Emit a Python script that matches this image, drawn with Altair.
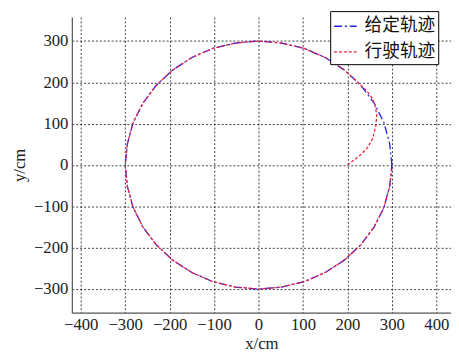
import altair as alt
import pandas as pd

# Given trajectory (circle r=300), points read every 10 degrees
given_x = [300, 295, 282, 260, 230, 193, 150, 103, 52, 0, -52, -103, -150, -193, -230, -260, -282, -295,
           -300, -295, -282, -260, -230, -193, -150, -103, -52, 0, 52, 103, 150, 193, 230, 260, 282, 295, 300]
given_y = [0, 52, 103, 150, 193, 230, 260, 282, 295, 300, 295, 282, 260, 230, 193, 150, 103, 52,
           0, -52, -103, -150, -193, -230, -260, -282, -295, -300, -295, -282, -260, -230, -193, -150, -103, -52, 0]

# Driven trajectory: starts at (200,0), converges onto the circle
driven_x = [200, 215, 230, 245, 257, 264, 266, 262, 255, 243, 230, 193, 150, 103, 52, 0, -52, -103, -150, -193,
            -230, -260, -282, -295, -300, -295, -282, -260, -230, -193, -150, -103, -52, 0, 52, 103, 150, 193,
            230, 260, 282, 295, 300]
driven_y = [0, 12, 25, 42, 65, 95, 122, 145, 163, 180, 193, 230, 260, 282, 295, 300, 295, 282, 260, 230,
            193, 150, 103, 52, 0, -52, -103, -150, -193, -230, -260, -282, -295, -300, -295, -282, -260, -230,
            -193, -150, -103, -52, -10]

series_names = ["给定轨迹", "行驶轨迹"]
x_ticks = [-400, -300, -200, -100, 0, 100, 200, 300, 400]
y_ticks = [-300, -200, -100, 0, 100, 200, 300]

rows = []
for i, (x, y) in enumerate(zip(given_x, given_y)):
    rows.append({"series": series_names[0], "idx": i, "x": x, "y": y})
for i, (x, y) in enumerate(zip(driven_x, driven_y)):
    rows.append({"series": series_names[1], "idx": i, "x": x, "y": y})
df = pd.DataFrame(rows)

serif = "Liberation Serif"

def axis(values, title):
    return alt.Axis(values=values, title=title, format="d",
                    labelFont=serif, labelFontSize=17, labelColor="#222",
                    titleFont=serif, titleFontSize=17, titleFontWeight="normal", titleColor="#222")

leg = alt.Legend(title=None, orient="none", legendX=263, legendY=-6)

chart = alt.Chart(df).mark_line(strokeWidth=1.3).encode(
    x=alt.X("x:Q", scale=alt.Scale(domain=[-420, 433], nice=False, zero=False), axis=axis(x_ticks, "x/cm")),
    y=alt.Y("y:Q", scale=alt.Scale(domain=[-357, 358], nice=False, zero=False), axis=axis(y_ticks, "y/cm")),
    color=alt.Color("series:N", scale=alt.Scale(domain=series_names, range=["#2020e8", "#f02040"]), legend=leg),
    strokeDash=alt.StrokeDash("series:N", scale=alt.Scale(domain=series_names, range=[[8, 3, 2, 3], [3, 2]]),
                              legend=leg),
    order="idx:Q",
    detail="series:N",
).properties(
    width=386, height=301,
    autosize=alt.AutoSizeParams(type="none"),
    padding={"left": 65, "top": 6, "right": 0, "bottom": 44},
).configure_view(
    stroke=None
).configure_axis(
    grid=True, gridColor="#000", gridDash=[2, 2], gridWidth=0.9, gridOpacity=0.85,
    domainColor="#555", domainWidth=1.2, tickSize=0, labelPadding=4,
).configure_axisY(
    titlePadding=5
).configure_axisX(
    titlePadding=3
).configure_legend(
    strokeColor="#000", fillColor="white", padding=3, cornerRadius=0,
    labelFont="Noto Sans CJK SC", labelFontSize=18, labelColor="#111",
    symbolType="stroke", symbolSize=529, symbolStrokeWidth=1.5, rowPadding=4, labelOffset=7,
)

chart.save("out.html", embed_options={"renderer": "svg", "actions": False})
